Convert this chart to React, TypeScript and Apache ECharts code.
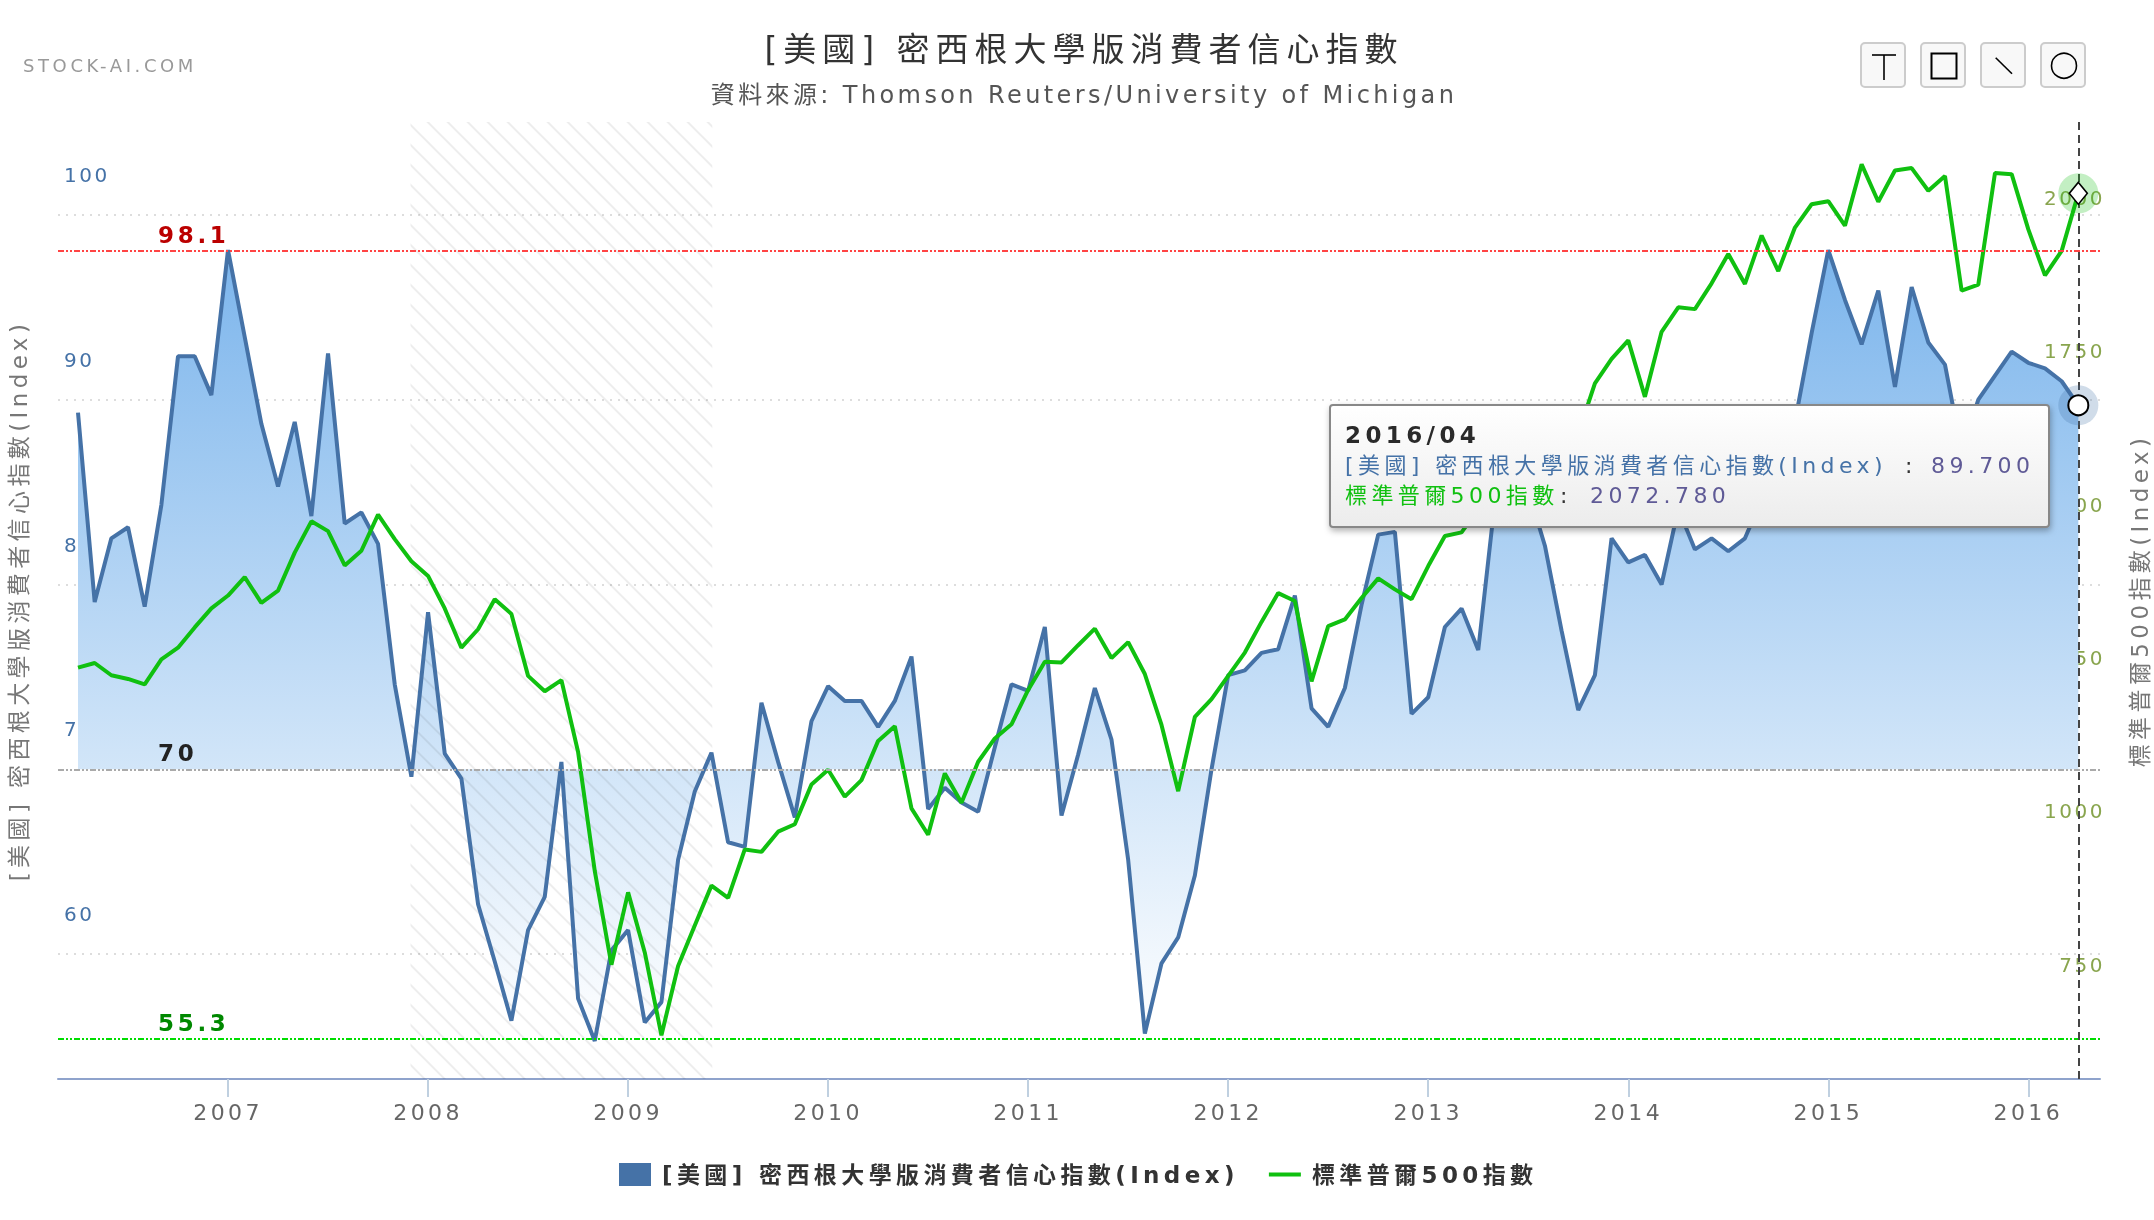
import React, { useEffect, useRef } from "react";
import * as echarts from "echarts";

const FONT = '"DejaVu Sans", "Noto Sans CJK TC", sans-serif';
const BLUE_NAME = "[美國] 密西根大學版消費者信心指數(Index)";
const GREEN_NAME = "標準普爾500指數";
const TITLE = "[美國] 密西根大學版消費者信心指數";
const SUBTITLE = "資料來源: Thomson Reuters/University of Michigan";

const startYear = 2006;
const startMonth = 4;
const sentiment = [
  89.3, 79.05, 82.5, 83.1, 78.8, 84.3, 92.35, 92.35, 90.25, 98.1, 93.4, 88.7, 85.3, 88.8, 83.7, 92.5, 83.3, 83.9, 82.2, 74.6,
  69.6, 78.5, 70.85, 69.5, 62.7, 59.6, 56.4, 61.3, 63.1, 70.4, 57.6, 55.3, 60.2, 61.3, 56.3, 57.4, 65.1, 68.8, 70.9, 66.05,
  65.8, 73.6, 70.4, 67.4, 72.6, 74.5, 73.7, 73.7, 72.3, 73.7, 76.1, 67.85, 69.0, 68.2, 67.7, 71.2, 74.6, 74.25, 77.7, 67.5,
  70.8, 74.4, 71.6, 65.1, 55.7, 59.5, 60.9, 64.25, 70.0, 75.1, 75.35, 76.3, 76.5, 79.4, 73.3, 72.3, 74.4, 78.9, 82.7, 82.85,
  73.0, 73.9, 77.7, 78.7, 76.45, 84.5, 84.1, 85.1, 82.1, 77.5, 73.2, 75.1, 82.5, 81.2, 81.6, 80.0, 84.1, 81.9, 82.5, 81.8,
  82.5, 84.6, 86.9, 88.8, 93.6, 98.1, 95.4, 93.0, 95.9, 90.7, 96.1, 93.1, 91.9, 87.2, 90.0, 91.3, 92.6, 92.0, 91.7, 91.0, 89.7,
];
const sp500 = [
  1299.5, 1307, 1287, 1281, 1272, 1313, 1332, 1365, 1396, 1417, 1447, 1405, 1425, 1487, 1538, 1522, 1466, 1490, 1549, 1509,
  1473, 1449, 1396, 1332, 1362, 1411, 1387, 1286, 1261, 1279, 1162, 968, 815, 933, 835, 700, 813, 879, 944, 924,
  1003, 999, 1032, 1044, 1109, 1133, 1089, 1116, 1180, 1204, 1070, 1027, 1127, 1079, 1146, 1184, 1207, 1263, 1309, 1308,
  1336, 1363, 1315, 1341, 1289, 1206, 1098, 1219, 1248, 1286, 1324, 1374, 1421, 1408, 1277, 1367, 1378, 1413, 1445, 1427,
  1411, 1465, 1514, 1520, 1558, 1597, 1630, 1606, 1686, 1633, 1681, 1763, 1803, 1833, 1741, 1847, 1887, 1884, 1926, 1974,
  1925, 2004, 1946, 2017, 2055, 2060, 2020, 2120, 2059, 2110, 2114, 2077, 2101, 1914, 1924, 2106, 2104, 2014, 1939, 1979, 2072.78,
];
const months = sentiment.map((_, i) => {
  const m = startMonth - 1 + i;
  return `${startYear + Math.floor(m / 12)}/${String((m % 12) + 1).padStart(2, "0")}`;
});
const yearLabels = ["2007", "2008", "2009", "2010", "2011", "2012", "2013", "2014", "2015", "2016"];
const leftTicks = [60, 70, 80, 90, 100];
const rightTicks = [750, 1000, 1250, 1500, 1750, 2000];
const refHigh = 98.05;
const refMid = 70;
const refLow = 55.4;
const bandStart = "2007/12";
const bandEnd = "2009/06";

function letterSpacing(s: string) {
  if (s === TITLE) return 6;
  if (s === SUBTITLE) return 3.4;
  if (s === "STOCK-AI.COM") return 3.6;
  if (yearLabels.includes(s)) return 3.4;
  if (/^\d+$/.test(s) && s !== "70") return 2.5;
  if (s === "98.1" || s === "55.3" || s === "70") return 3.7;
  return 4.4;
}

function hatch() {
  const c = document.createElement("canvas");
  c.width = 20;
  c.height = 20;
  const g = c.getContext("2d")!;
  g.strokeStyle = "rgba(0,0,0,0.07)";
  g.lineWidth = 2;
  for (const s of [-20, 0, 20]) {
    g.beginPath();
    g.moveTo(s + 5.7 - 5, -5);
    g.lineTo(s + 5.7 + 25, 25);
    g.stroke();
  }
  return c;
}

function button(x: number) {
  return {
    type: "rect",
    z: 50,
    shape: { x, y: 43, width: 44, height: 44, r: 4 },
    style: { fill: "#f8f8f8", stroke: "#cccccc", lineWidth: 2 },
  };
}

function txt(x: number, y: number, text: string, fill: string, font: string, z = 101, align = "left") {
  return { type: "text", z, x, y, style: { text, fill, font, textAlign: align, textVerticalAlign: "middle" } };
}

export default function App() {
  const ref = useRef<HTMLDivElement>(null);
  useEffect(() => {
    const chart = echarts.init(ref.current!, undefined, { renderer: "svg" });
    const xy = (arr: number[]) => arr.map((v, i) => [i, v]);
    const fillGrad = new echarts.graphic.LinearGradient(
      0, 251, 0, 1040,
      [
        { offset: 0, color: "#7cb5ec" },
        { offset: 1, color: "#ffffff" },
      ],
      true
    );
    const last = months.length - 1;
    const tipBold = `bold 23px ${FONT}`;
    const tipFont = `22px ${FONT}`;
    chart.setOption({
      animation: false,
      textStyle: { fontFamily: FONT },
      title: [
        { text: TITLE, left: 1079, top: 28, textAlign: "center", textStyle: { fontSize: 33, fontWeight: "normal", color: "#333", fontFamily: FONT } },
        { text: SUBTITLE, left: 1079, top: 78, textAlign: "center", textStyle: { fontSize: 24, fontWeight: "normal", color: "#555", fontFamily: FONT } },
        { text: "STOCK-AI.COM", left: 18, top: 51, textStyle: { fontSize: 18, fontWeight: "normal", color: "#999", fontFamily: FONT } },
      ],
      legend: {
        left: 614,
        top: 1158,
        itemWidth: 32,
        itemHeight: 23,
        itemGap: 140,
        selectedMode: false,
        data: [{ name: BLUE_NAME, icon: "rect" }, { name: GREEN_NAME, icon: "path://M0 0L0 0M32 23L32 23M0 9.5H32V13.5H0Z" }],
        textStyle: { fontSize: 23, fontWeight: "bold", color: "#333", fontFamily: FONT, padding: [0, 0, 0, 6] },
      },
      grid: { left: 58, right: 54, top: 122, bottom: 141, outerBoundsMode: "none" },
      xAxis: {
        type: "value",
        min: -1.2,
        max: 121.3,
        axisLine: { show: true, onZero: false, lineStyle: { color: "#8fa3cc", width: 2 } },
        axisTick: { show: true, length: 18, lineStyle: { color: "#c0d0e0", width: 2 }, customValues: yearLabels.map((y) => months.indexOf(`${y}/01`)) },
        axisLabel: {
          customValues: yearLabels.map((y) => months.indexOf(`${y}/01`)),
          formatter: (v: number) => months[v].slice(0, 4),
          color: "#666",
          fontSize: 22,
          fontFamily: FONT,
          margin: 22,
        },
        splitLine: { show: false },
      },
      yAxis: [
        {
          type: "value",
          min: 53.24,
          max: 105.03,
          name: BLUE_NAME,
          nameLocation: "middle",
          nameGap: 28,
          nameTextStyle: { color: "#777", fontSize: 23, fontFamily: FONT },
          axisLine: { show: false },
          axisTick: { show: false, customValues: leftTicks },
          axisLabel: { customValues: leftTicks, inside: true, margin: 6, color: "#4572a7", fontSize: 20, fontFamily: FONT, lineHeight: 80, verticalAlign: "bottom", formatter: (v: number) => String(v) },
          splitLine: { show: true, lineStyle: { color: "#dddddd", width: 2, type: [2, 6] } },
        },
        {
          type: "value",
          min: 628.7,
          max: 2189.1,
          name: GREEN_NAME + "(Index)",
          nameLocation: "middle",
          nameGap: 28,
          nameTextStyle: { color: "#777", fontSize: 23, fontFamily: FONT },
          axisLine: { show: false },
          axisTick: { show: false, customValues: rightTicks },
          axisLabel: { customValues: rightTicks, inside: true, margin: -5, color: "#89a54e", fontSize: 20, fontFamily: FONT, lineHeight: 80, verticalAlign: "bottom", formatter: (v: number) => String(v) },
          splitLine: { show: false },
        },
      ],
      series: [
        {
          name: BLUE_NAME,
          type: "line",
          z: 1,
          symbol: "none",
          data: xy(sentiment),
          itemStyle: { color: "#4572a7" },
          lineStyle: { opacity: 0 },
          areaStyle: { origin: refMid, color: fillGrad, opacity: 1 },
          silent: true,
        },
        {
          name: BLUE_NAME,
          type: "line",
          z: 3,
          symbol: "none",
          data: xy(sentiment),
          itemStyle: { color: "#4572a7" },
          lineStyle: { color: "#4572a7", width: 4 },
          silent: true,
          markArea: {
            silent: true,
            z: 2,
            itemStyle: { color: { image: hatch(), repeat: "repeat" }, opacity: 1 },
            data: [[{ xAxis: months.indexOf(bandStart) - 0.05 }, { xAxis: months.indexOf(bandEnd) + 0.05 }]],
          },
          markLine: {
            silent: true,
            symbol: "none",
            z: 5,
            label: { show: false },
            data: [
              { yAxis: refHigh, lineStyle: { color: "#ff4444", width: 2, type: [6, 2, 2, 2, 2, 2] } },
              { yAxis: refMid, lineStyle: { color: "#aaaaaa", width: 2, type: [6, 2, 2, 2, 2, 2] } },
              { yAxis: refLow, lineStyle: { color: "#00dd00", width: 2, type: [6, 2, 2, 2, 2, 2] } },
              { xAxis: last, lineStyle: { color: "#444444", width: 2, type: [8, 5] } },
            ],
          },
          markPoint: {
            silent: true,
            z: 8,
            label: { show: false },
            data: [
              { coord: [last, sentiment[last]], symbol: "circle", symbolSize: 40, itemStyle: { color: "rgba(69,114,167,0.25)" } },
              { coord: [last, sentiment[last]], symbol: "circle", symbolSize: 20, itemStyle: { color: "#ffffff", borderColor: "#000000", borderWidth: 2 } },
            ],
          },
        },
        {
          name: GREEN_NAME,
          type: "line",
          yAxisIndex: 1,
          z: 4,
          symbol: "none",
          data: xy(sp500),
          itemStyle: { color: "#10c010" },
          lineStyle: { color: "#10c010", width: 4 },
          silent: true,
          markPoint: {
            silent: true,
            z: 8,
            label: { show: false },
            data: [
              { coord: [last, sp500[last]], symbol: "circle", symbolSize: 40, itemStyle: { color: "rgba(16,192,16,0.25)" } },
              { coord: [last, sp500[last]], symbol: "diamond", symbolSize: [18, 22], itemStyle: { color: "#ffffff", borderColor: "#000000", borderWidth: 1.6 } },
            ],
          },
        },
      ],
      graphic: [
        txt(158, 235, "98.1", "#bb0000", `bold 23px ${FONT}`, 20),
        txt(158, 753, "70", "#222222", `bold 23px ${FONT}`, 20),
        txt(158, 1023, "55.3", "#008800", `bold 23px ${FONT}`, 20),
        button(1861), button(1921), button(1981), button(2041),
        { type: "line", z: 51, shape: { x1: 1872, y1: 55, x2: 1896, y2: 55 }, style: { stroke: "#000", lineWidth: 1.6 } },
        { type: "line", z: 51, shape: { x1: 1884, y1: 55, x2: 1884, y2: 80 }, style: { stroke: "#000", lineWidth: 1.6 } },
        { type: "rect", z: 51, shape: { x: 1931.5, y: 53.5, width: 25, height: 25 }, style: { fill: "none", stroke: "#000", lineWidth: 2 } },
        { type: "line", z: 51, shape: { x1: 1995.7, y1: 57.7, x2: 2012, y2: 73.7 }, style: { stroke: "#000", lineWidth: 1.6 } },
        { type: "circle", z: 51, shape: { cx: 2064, cy: 65.7, r: 12.5 }, style: { fill: "none", stroke: "#000", lineWidth: 1.6 } },
        {
          type: "rect",
          z: 100,
          shape: { x: 1330, y: 405, width: 719, height: 122, r: 3 },
          style: {
            fill: new echarts.graphic.LinearGradient(0, 0, 0, 1, [{ offset: 0, color: "#ffffff" }, { offset: 1, color: "#ececec" }]),
            stroke: "#888888",
            lineWidth: 2,
            shadowBlur: 6,
            shadowOffsetY: 3,
            shadowOffsetX: 1,
            shadowColor: "rgba(0,0,0,0.3)",
          },
        },
        txt(1345, 435, months[last], "#2a2a2a", tipBold),
        txt(1345, 465, BLUE_NAME, "#4572a7", tipFont),
        txt(1905, 465, ":", "#333333", tipFont),
        txt(1931, 465, sentiment[last].toFixed(3), "#5f5a96", tipFont),
        txt(1345, 495, GREEN_NAME, "#10c010", tipFont),
        txt(1560, 495, ":", "#333333", tipFont),
        txt(1590, 495, sp500[last].toFixed(3), "#5f5a96", tipFont),
      ],
    });
    chart.getZr().flush();
    const apply = () => {
      ref.current?.querySelectorAll("text").forEach((t) => {
        t.style.letterSpacing = letterSpacing(t.textContent || "") + "px";
      });
    };
    apply();
    const raf = requestAnimationFrame(apply);
    return () => {
      cancelAnimationFrame(raf);
      chart.dispose();
    };
  }, []);
  return <div ref={ref} style={{ position: "fixed", left: 0, top: 0, width: 2154, height: 1220 }} />;
}
